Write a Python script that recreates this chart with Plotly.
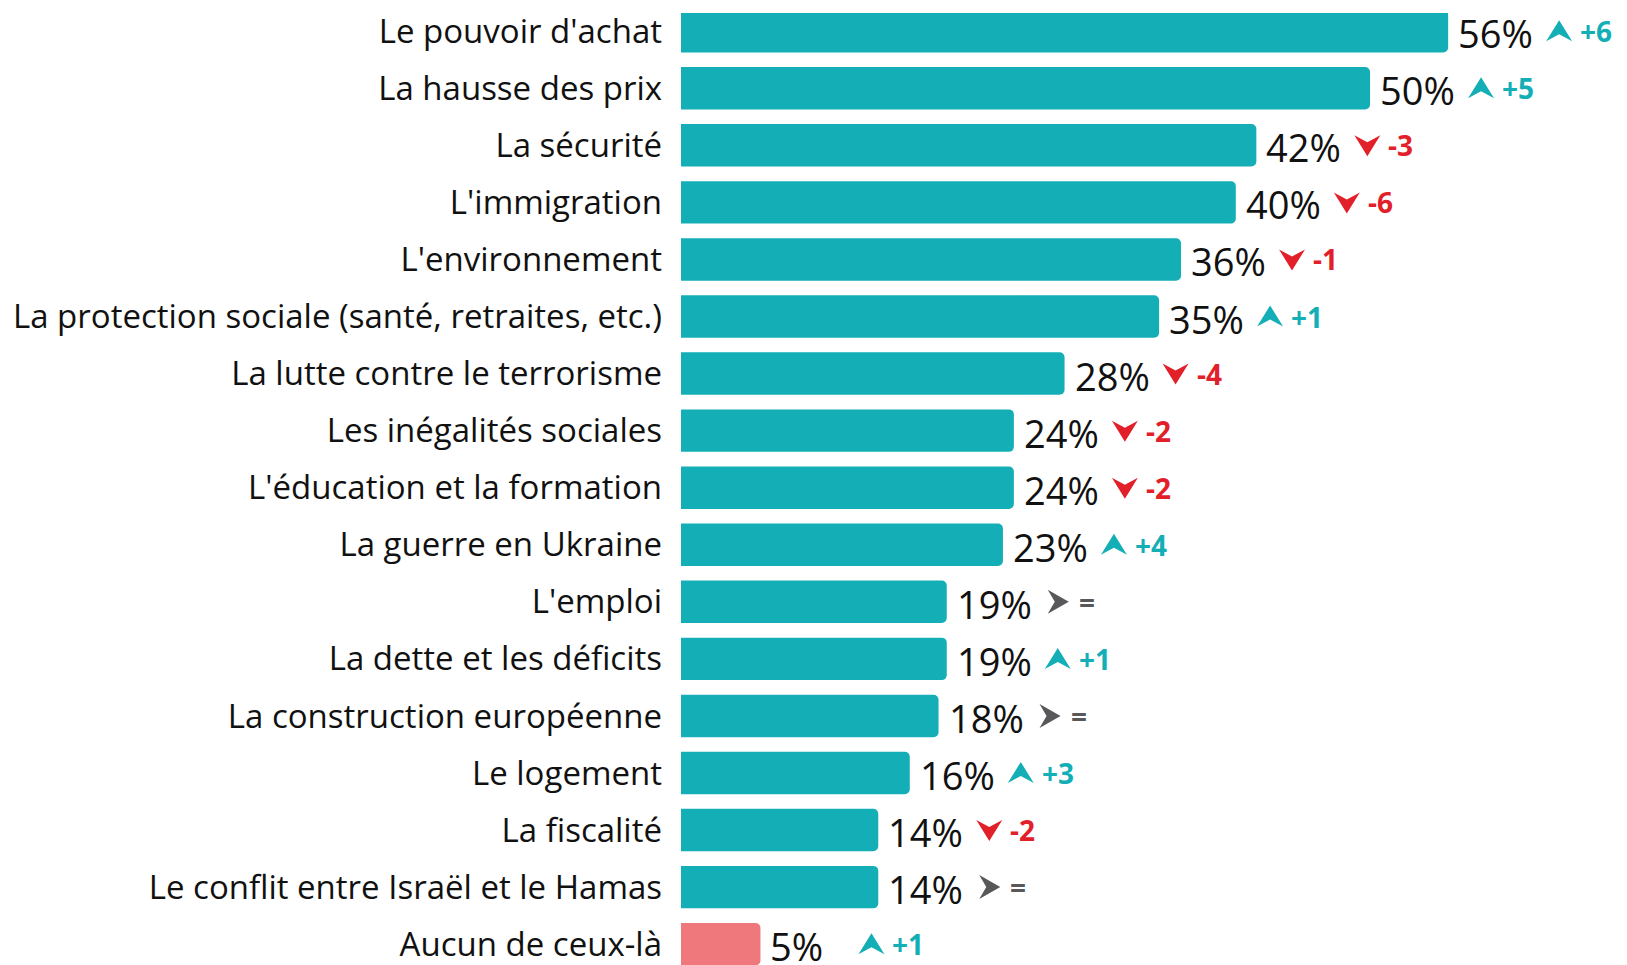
import plotly.graph_objects as go

categories = [
    "Le pouvoir d'achat",
    "La hausse des prix",
    "La sécurité",
    "L'immigration",
    "L'environnement",
    "La protection sociale (santé, retraites, etc.)",
    "La lutte contre le terrorisme",
    "Les inégalités sociales",
    "L'éducation et la formation",
    "La guerre en Ukraine",
    "L'emploi",
    "La dette et les déficits",
    "La construction européenne",
    "Le logement",
    "La fiscalité",
    "Le conflit entre Israël et le Hamas",
    "Aucun de ceux-là",
]
# printed percentages
values = [56, 50, 42, 40, 36, 35, 28, 24, 24, 23, 19, 19, 18, 16, 14, 14, 5]
# bar lengths (unrounded estimates)
bar_lengths = [56.0, 50.3, 42.0, 40.5, 36.5, 34.9, 28.0, 24.3, 24.3, 23.5,
               19.4, 19.4, 18.8, 16.7, 14.4, 14.4, 5.8]
changes = ["+6", "+5", "-3", "-6", "-1", "+1", "-4", "-2", "-2", "+4",
           "=", "+1", "=", "+3", "-2", "=", "+1"]

TEAL = "#14AFB6"
PINK = "#EF787D"
RED = "#E2202A"
GREY = "#58585A"
FONT = "Open Sans"

bar_colors = [PINK if c == "Aucun de ceux-là" else TEAL for c in categories]

fig = go.Figure(go.Bar(
    x=bar_lengths, y=categories, orientation="h",
    marker=dict(color=bar_colors, cornerradius=5, line=dict(width=0)),
    width=0.744, hoverinfo="skip",
))

ARROW_OFF = 111
TEXT_OFF = ARROW_OFF + 19


def chevron(kind):
    o = ARROW_OFF
    if kind == "up":
        pts = [(-13, -10), (0, 11), (13, -10), (0, -3)]
    elif kind == "down":
        pts = [(-13, 10), (0, -11), (13, 10), (0, 3)]
    else:
        pts = [(-10, 12), (11, 0), (-10, -12), (-3, 0)]
    return "M" + " L".join(f"{x + o},{y}" for x, y in pts) + " Z"


shapes = []
annotations = []
for cat, v, L, ch in zip(categories, values, bar_lengths, changes):
    if ch.startswith("+"):
        kind, col = "up", TEAL
    elif ch.startswith("-"):
        kind, col = "down", RED
    else:
        kind, col = "right", GREY
    shapes.append(dict(
        type="path", xref="x", yref="y", xsizemode="pixel", ysizemode="pixel",
        xanchor=L, yanchor=cat, path=chevron(kind),
        fillcolor=col, line=dict(width=0),
    ))
    annotations.append(dict(
        x=L, y=cat, xref="x", yref="y", text=f"{v}%", showarrow=False,
        xanchor="left", yanchor="middle", xshift=8, yshift=-2,
        font=dict(family=FONT, size=38, color="#111111"),
    ))
    annotations.append(dict(
        x=L, y=cat, xref="x", yref="y", text=f"<b>{ch}</b>", showarrow=False,
        xanchor="left", yanchor="middle", xshift=TEXT_OFF, yshift=0,
        font=dict(family=FONT, size=28, color=col),
    ))

fig.update_layout(
    width=1627, height=965,
    margin=dict(l=673, r=0, t=0, b=0),
    paper_bgcolor="white", plot_bgcolor="white",
    showlegend=False,
    shapes=shapes, annotations=annotations,
    xaxis=dict(range=[0, 69.64], visible=False, fixedrange=True),
    yaxis=dict(
        range=[16.505, -0.319], showgrid=False, zeroline=False, showline=False,
        ticks="", ticklabelstandoff=18,
        tickfont=dict(family=FONT, size=33, color="#111111"),
    ),
)

fig.write_html("out.html")
